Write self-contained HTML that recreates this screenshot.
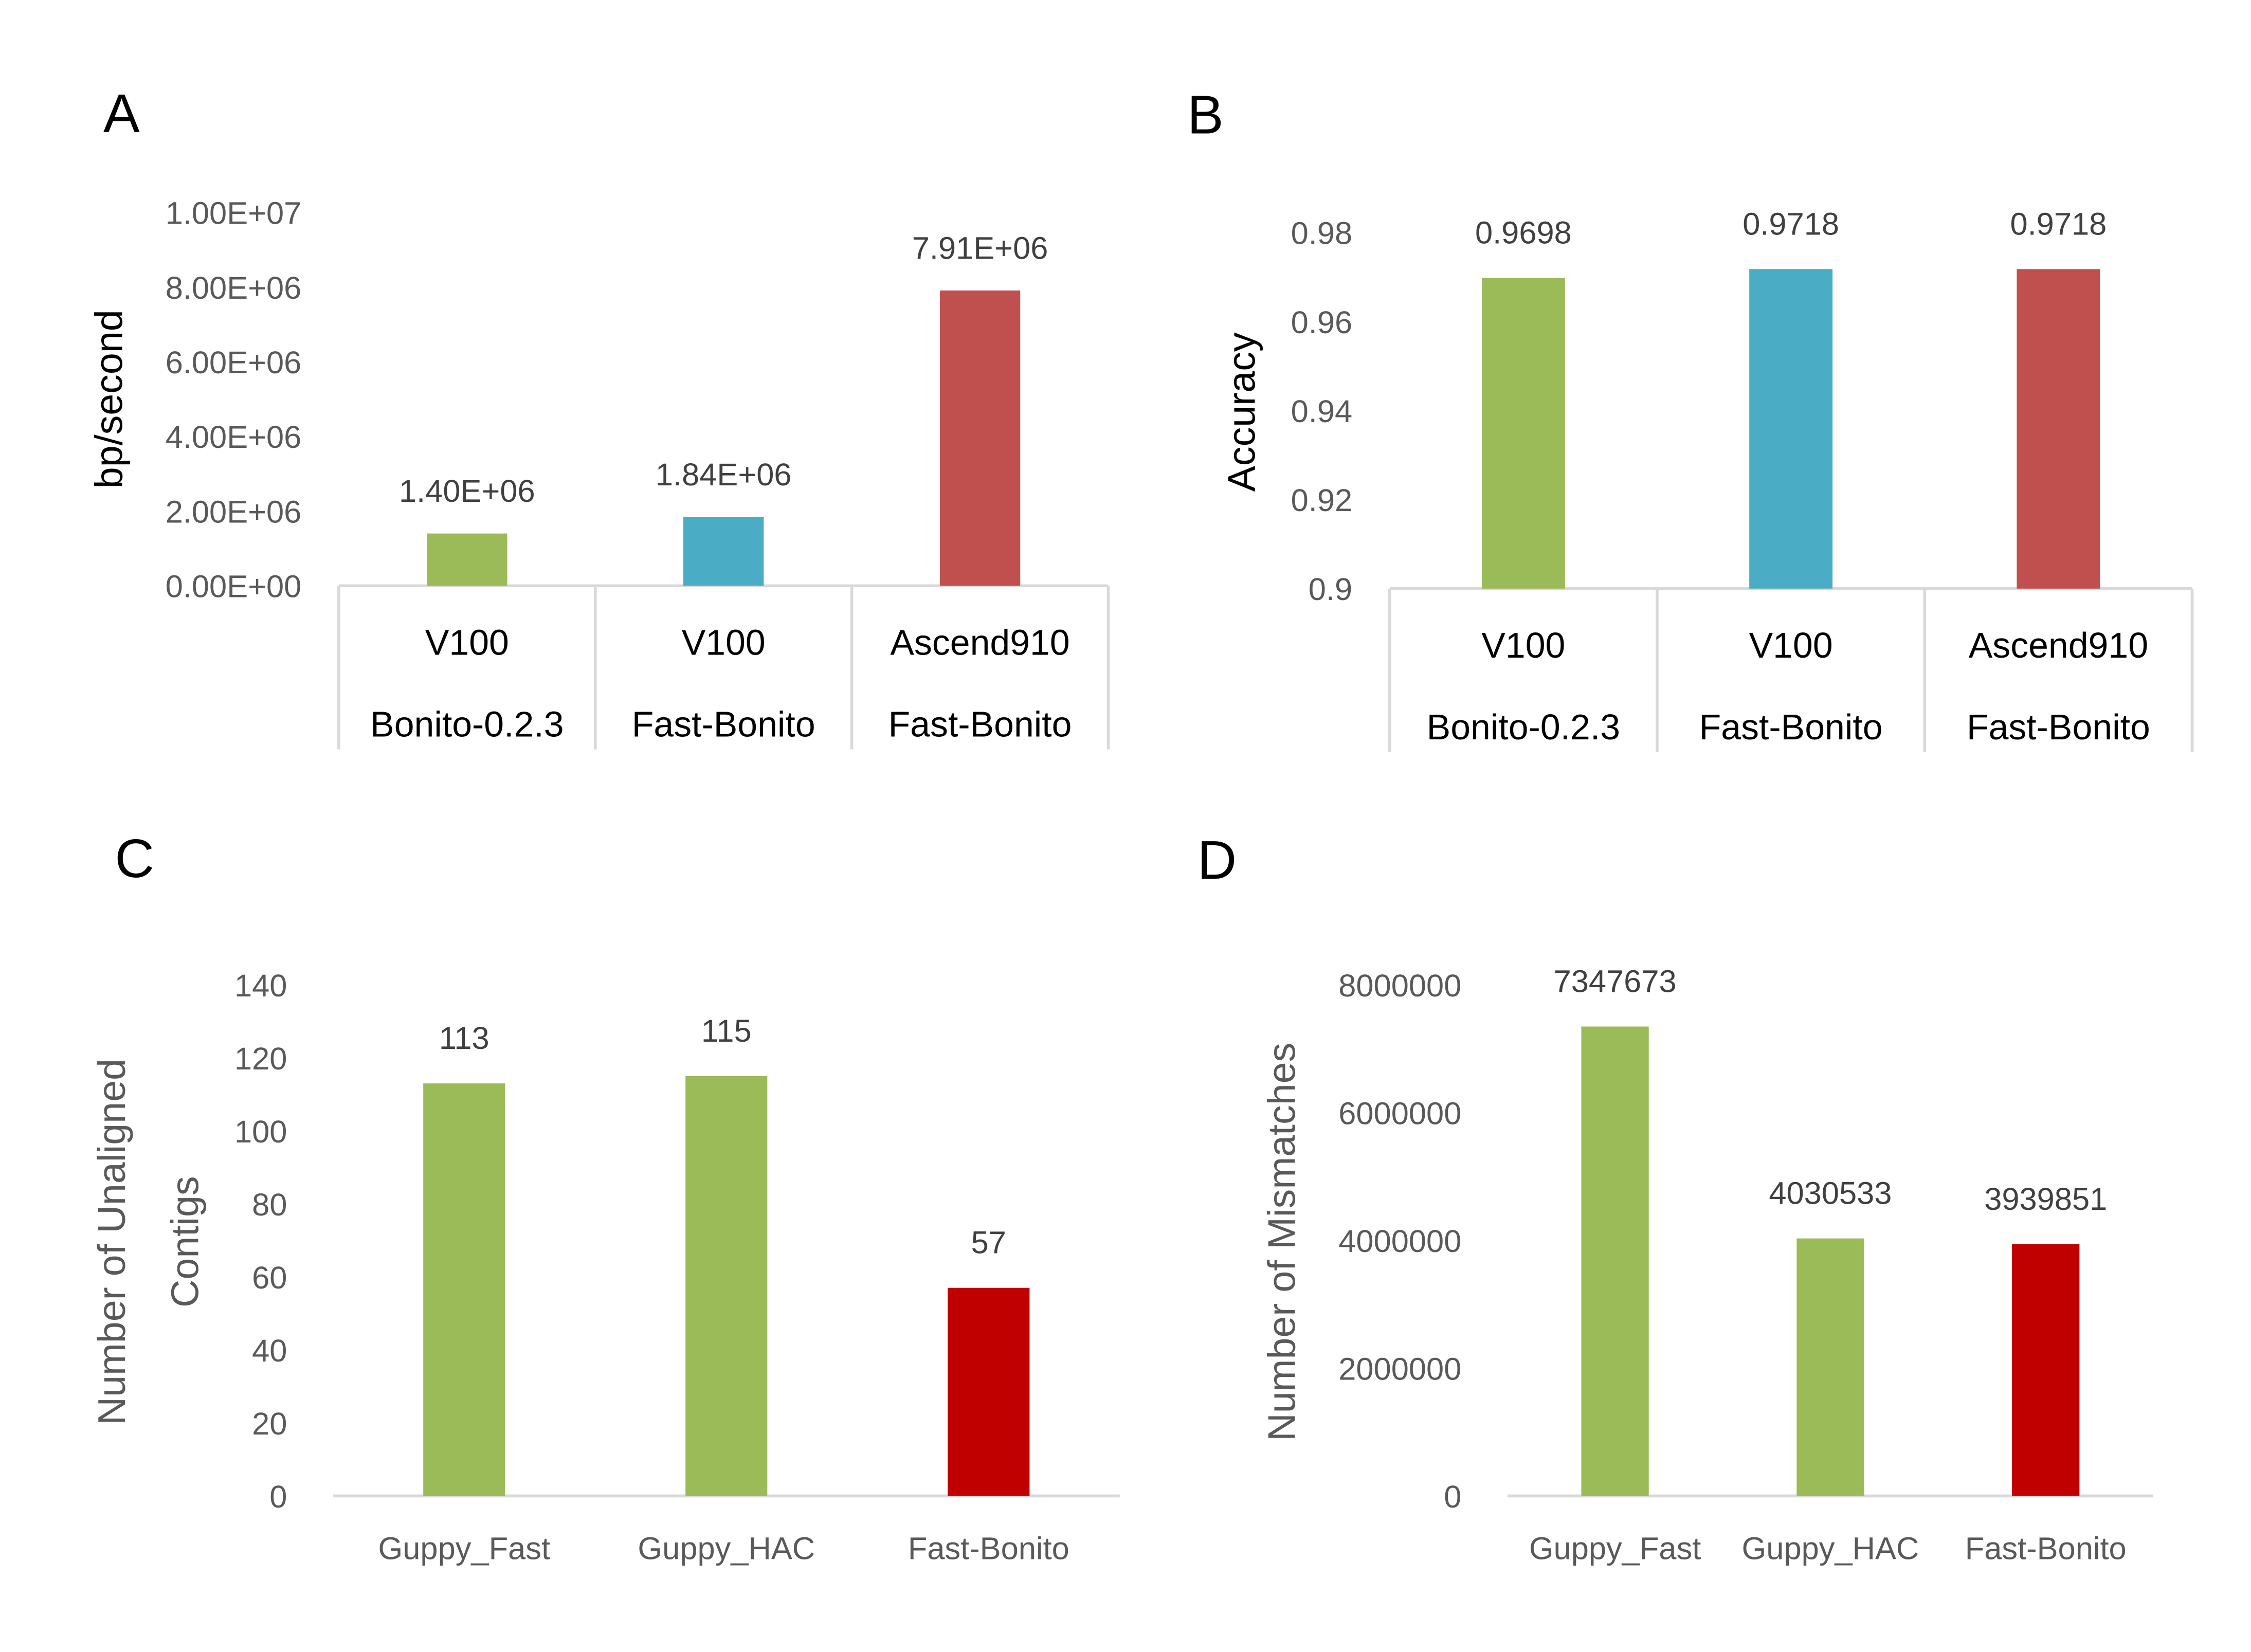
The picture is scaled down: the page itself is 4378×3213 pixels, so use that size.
<!DOCTYPE html>
<html><head><meta charset="utf-8"><style>
html,body{margin:0;padding:0;background:#fff;}
svg{display:block;font-family:"Liberation Sans",Arial,sans-serif;}
</style></head><body>
<svg id="fig" width="4378" height="3213" viewBox="0 0 1568 1150.7" xmlns="http://www.w3.org/2000/svg">
<text x="72" y="92" font-size="38">A</text>
<text x="827" y="93" font-size="38">B</text>
<text x="80" y="611" font-size="38">C</text>
<text x="834" y="612" font-size="38">D</text>
</svg>
<script>
// Chart A
const catsA1 = ["V100","V100","Ascend910"];
const catsA2 = ["Bonito-0.2.3","Fast-Bonito","Fast-Bonito"];
const valsA = [1.40e6, 1.84e6, 7.91e6];
const labelsA = ["1.40E+06","1.84E+06","7.91E+06"];
const ticksA = [0,2e6,4e6,6e6,8e6,1e7];
const tickLabelsA = ["0.00E+00","2.00E+06","4.00E+06","6.00E+06","8.00E+06","1.00E+07"];
// Chart B
const catsB1 = ["V100","V100","Ascend910"];
const catsB2 = ["Bonito-0.2.3","Fast-Bonito","Fast-Bonito"];
const valsB = [0.9698, 0.9718, 0.9718];
const labelsB = ["0.9698","0.9718","0.9718"];
const ticksB = [0.9,0.92,0.94,0.96,0.98];
const tickLabelsB = ["0.9","0.92","0.94","0.96","0.98"];
// Chart C
const catsC = ["Guppy_Fast","Guppy_HAC","Fast-Bonito"];
const valsC = [113, 115, 57];
const ticksC = [0,20,40,60,80,100,120,140];
// Chart D
const catsD = ["Guppy_Fast","Guppy_HAC","Fast-Bonito"];
const valsD = [7347673, 4030533, 3939851];
const ticksD = [0,2000000,4000000,6000000,8000000];

const NS="http://www.w3.org/2000/svg";
const svg=document.getElementById('fig');
function mk(tag,attrs,parent,txt){const e=document.createElementNS(NS,tag);for(const k in attrs)e.setAttribute(k,attrs[k]);if(txt!==undefined)e.textContent=txt;(parent||svg).appendChild(e);return e;}

function chart(o){
  const g=mk('g',{});
  
  
  const y=v=>o.y0-(v-o.vmin)/(o.vmax-o.vmin)*(o.y0-o.y1);
  const n=o.vals.length, w=(o.x1-o.x0)/n;
  o.ticks.forEach((t,i)=>{
    const e=mk('text',{x:o.tickX,y:y(t)+8,'font-size':22,fill:'#595959','text-anchor':'end'},g,o.tickLabels[i]);
    
    
  });
  const ax=mk('line',{x1:o.x0,x2:o.x1,y1:o.y0,y2:o.y0,stroke:'#d9d9d9','stroke-width':2},g);
  
  
  if(o.boxes){
    for(let i=0;i<=n;i++){
      const l=mk('line',{x1:o.x0+i*w,x2:o.x0+i*w,y1:o.y0,y2:o.boxBottom,stroke:'#d9d9d9','stroke-width':2},g);
      
      
    }
  }
  o.vals.forEach((v,i)=>{
    const cx=o.x0+w*(i+0.5);
    const r=mk('rect',{x:cx-o.bw/2,y:y(v),width:o.bw,height:o.y0-y(v),fill:o.colors[i]},g);
    
    
    const lt=mk('text',{x:cx,y:y(v)-o.labOff,'font-size':22,fill:'#404040','text-anchor':'middle'},g,o.labels[i]);
    
    
    if(o.cat2){
      const c1=mk('text',{x:cx,y:o.y0+48,'font-size':25,fill:'#000','text-anchor':'middle'},g,o.cat1[i]);
      
      
      const c2=mk('text',{x:cx,y:o.y0+105,'font-size':25,fill:'#000','text-anchor':'middle'},g,o.cat2[i]);
      
      
    } else {
      const c1=mk('text',{x:cx,y:o.y0+44,'font-size':22,fill:'#595959','text-anchor':'middle'},g,o.cat1[i]);
      
      
    }
  });
  o.titles.forEach(t=>{
    const e=mk('text',{x:t.x,y:t.y,'font-size':27,fill:o.titleColor,'text-anchor':'middle',transform:`rotate(-90 ${t.x} ${t.y})`},g,t.s);
    
    
  });
}
chart({name:'chart-a',vals:valsA,labels:labelsA,ticks:ticksA,tickLabels:tickLabelsA,cat1:catsA1,cat2:catsA2,
  vmin:0,vmax:1e7,y0:408,y1:148,x0:236,x1:772,bw:56,tickX:210,boxes:true,boxBottom:522,labOff:22,
  colors:['#9BBB59','#4BACC6','#C0504D'],titleColor:'#000',titles:[{x:85,y:278,s:'bp/second'}]});
chart({name:'chart-b',vals:valsB,labels:labelsB,ticks:ticksB,tickLabels:tickLabelsB,cat1:catsB1,cat2:catsB2,
  vmin:0.9,vmax:0.98,y0:410,y1:162,x0:968,x1:1527,bw:58,tickX:942,boxes:true,boxBottom:524,labOff:24,
  colors:['#9BBB59','#4BACC6','#C0504D'],titleColor:'#000',titles:[{x:874,y:287,s:'Accuracy'}]});
chart({name:'chart-c',vals:valsC,labels:valsC.map(String),ticks:ticksC,tickLabels:ticksC.map(String),cat1:catsC,
  vmin:0,vmax:140,y0:1042,y1:686,x0:232,x1:780,bw:57,tickX:200,boxes:false,labOff:24,
  colors:['#9BBB59','#9BBB59','#C00000'],titleColor:'#595959',
  titles:[{x:87,y:865,s:'Number of Unaligned'},{x:138,y:865,s:'Contigs'}]});
chart({name:'chart-d',vals:valsD,labels:valsD.map(String),ticks:ticksD,tickLabels:ticksD.map(String),cat1:catsD,
  vmin:0,vmax:8e6,y0:1042,y1:686,x0:1050,x1:1500,bw:47,tickX:1018,boxes:false,labOff:24,
  colors:['#9BBB59','#9BBB59','#C00000'],titleColor:'#595959',titles:[{x:902,y:865,s:'Number of Mismatches'}]});
</script>
</body></html>
